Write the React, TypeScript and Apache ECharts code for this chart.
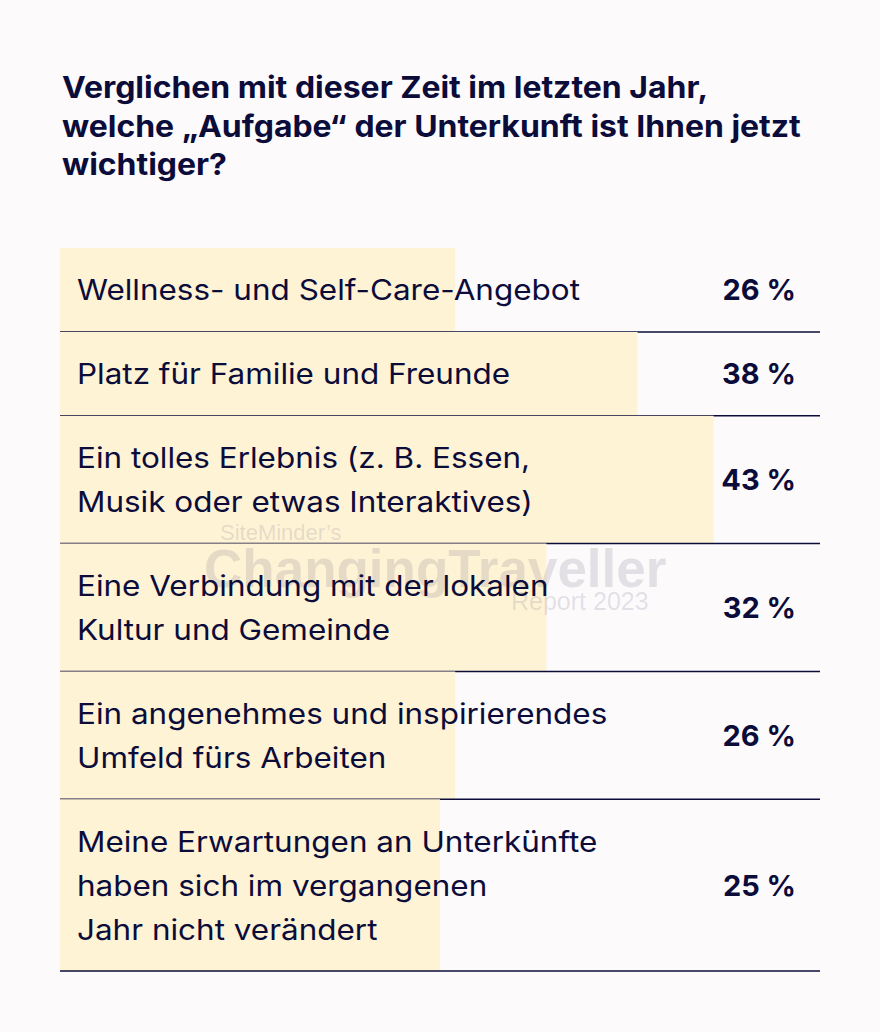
import React, { useEffect, useRef } from "react";
import * as echarts from "echarts";

const TITLE = "Verglichen mit dieser Zeit im letzten Jahr,\nwelche „Aufgabe“ der Unterkunft ist Ihnen jetzt\nwichtiger?";
const categories = [
  "Wellness- und Self-Care-Angebot",
  "Platz für Familie und Freunde",
  "Ein tolles Erlebnis (z. B. Essen,\nMusik oder etwas Interaktives)",
  "Eine Verbindung mit der lokalen\nKultur und Gemeinde",
  "Ein angenehmes und inspirierendes\nUmfeld fürs Arbeiten",
  "Meine Erwartungen an Unterkünfte\nhaben sich im vergangenen\nJahr nicht verändert",
];
const values = [26, 38, 43, 32, 26, 25];
const AXIS_MAX = 50;
const WATERMARK = ["SiteMinder’s", "ChangingTraveller", "Report 2023"];

const LINE_H = 44;
const ROW_PAD = 40;
const FONT = "Inter, 'Noto Sans', sans-serif";
const WM_FONT = "'Liberation Sans', Arial, sans-serif";
const NAVY = "#0b0c3a";
const BAR = "#fff3d6";
const BG = "#fdfafc";

export default function App() {
  const ref = useRef<HTMLDivElement>(null);
  useEffect(() => {
    document.body.style.margin = "0";
    const chart = echarts.init(ref.current!, null, { renderer: "svg" });
    let acc = 0;
    const rows = categories.map((c, i) => {
      const n = c.split("\n").length;
      const h = n * LINE_H + ROW_PAD;
      const start = acc;
      acc += h;
      return [values[i], start, acc, i];
    });
    const total = acc;

    const wm = "rgba(110,110,135,0.19)";
    chart.setOption({
      animation: false,
      backgroundColor: BG,
      grid: { left: 60, right: 60, top: 248, bottom: 61 },
      xAxis: { type: "value", min: 0, max: AXIS_MAX, show: false },
      yAxis: { type: "value", min: 0, max: total, inverse: true, show: false },
      graphic: [
        { type: "text", z: 50, x: 62, y: 68, scaleX: 1.065, style: { text: TITLE, fontFamily: FONT, fontSize: 30, fontWeight: "bold", fill: NAVY, lineHeight: 38.5, verticalAlign: "top" } },
        { type: "text", z: 50, x: 220, y: 532, style: { text: WATERMARK[0], fontFamily: WM_FONT, fontSize: 22, fill: wm, verticalAlign: "middle" } },
        { type: "text", z: 50, x: 204, y: 568, style: { text: WATERMARK[1], fontFamily: WM_FONT, fontWeight: "bold", fontSize: 53, fill: wm, verticalAlign: "middle" } },
        { type: "text", z: 50, x: 511, y: 601, style: { text: WATERMARK[2], fontFamily: WM_FONT, fontSize: 25, fill: wm, verticalAlign: "middle" } },
      ],
      series: [
        {
          type: "custom",
          z: 1,
          data: rows,
          renderItem: (params: any, api: any) => {
            const v = api.value(0), s = api.value(1), e = api.value(2);
            const p0 = api.coord([0, s]);
            const p1 = api.coord([v, e]);
            const pEnd = api.coord([AXIS_MAX, e]);
            return {
              type: "group",
              children: [
                { type: "rect", shape: { x: p0[0], y: p0[1], width: p1[0] - p0[0], height: p1[1] - p0[1] }, style: { fill: BAR } },
                { type: "line", shape: { x1: p0[0], y1: p1[1], x2: pEnd[0], y2: p1[1] }, style: { stroke: NAVY, lineWidth: 1.5 } },
              ],
            };
          },
        },
        {
          type: "custom",
          z: 100,
          data: rows,
          renderItem: (params: any, api: any) => {
            const v = api.value(0), s = api.value(1), e = api.value(2), i = api.value(3);
            const pm = api.coord([0, (s + e) / 2]);
            const pr = api.coord([AXIS_MAX, (s + e) / 2]);
            return {
              type: "group",
              children: [
                { type: "text", x: pm[0] + 17, y: pm[1], scaleX: 1.104, style: { text: categories[i], fontFamily: FONT, fontSize: 28.5, fill: NAVY, lineHeight: LINE_H, verticalAlign: "middle", align: "left" } },
                { type: "text", x: pr[0] - 24, y: pm[1], style: { text: v + " %", fontFamily: FONT, fontSize: 29, fontWeight: "bold", fill: NAVY, verticalAlign: "middle", align: "right" } },
              ],
            };
          },
        },
      ],
    });
    return () => chart.dispose();
  }, []);
  return <div ref={ref} style={{ width: 880, height: 1032 }} />;
}
